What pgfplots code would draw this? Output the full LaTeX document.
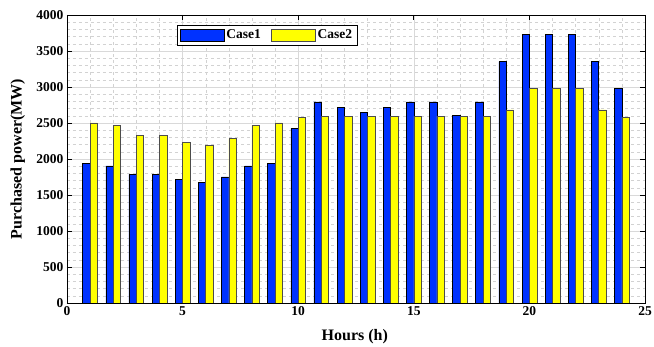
\documentclass[border=0pt]{standalone}
\usepackage{fontspec}
\setmainfont{Liberation Serif}
\usepackage{pgfplots}
\pgfplotsset{compat=1.18}
\definecolor{cblue}{RGB}{0,50,255}
\definecolor{cyel}{RGB}{255,255,0}
\begin{document}
\begin{tikzpicture}
\path[use as bounding box] (-67pt,-44pt) rectangle (587pt,303pt);
\begin{axis}[
  at={(0,0)}, anchor=south west,
  scale only axis, width=578pt, height=288pt,
  ybar,
  xmin=0, xmax=25, ymin=0, ymax=4000,
  xtick={0,5,...,25}, ytick={0,500,...,4000},
  minor x tick num=4, minor y tick num=4,
  grid=both,
  major grid style={gray!30, line width=0.6pt},
  minor grid style={gray!35, dashed, line width=0.4pt},
  tick align=inside,
  major tick length=5pt, minor tick length=0pt,
  axis line style={black, line width=0.7pt},
  tick style={black, line width=0.7pt},
  ticklabel style={font=\fontsize{13.5}{13.5}\selectfont\bfseries},
  /pgf/number format/assume math mode=true,
  /pgf/number format/set thousands separator={},
  xlabel={Hours (h)}, ylabel={Purchased power(MW)},
  label style={font=\fontsize{16}{16}\selectfont\bfseries},
  xlabel style={at={(axis description cs:0.498,-0.118)}, anchor=center},
  ylabel style={at={(axis description cs:-0.085,0.5)}, anchor=center},
  legend columns=2,
  legend style={at={(axis description cs:0.346,0.967)}, anchor=north,
    draw=black, line width=0.6pt, fill=white, inner sep=3pt,
    font=\fontsize{13.5}{13.5}\selectfont\bfseries,
    /tikz/every even column/.append style={column sep=8pt}},
  legend image code/.code={\draw[#1] (0pt,-6pt) rectangle (44pt,6pt);},
]
\addplot[ybar, bar width=0.32, bar shift=-0.16, fill=cblue, draw=black, line width=0.6pt] coordinates {
(1,1935) (2,1903) (3,1787) (4,1787) (5,1713) (6,1676) (7,1750) (8,1903)
(9,1935) (10,2426) (11,2792) (12,2722) (13,2644) (14,2722) (15,2792) (16,2792)
(17,2611) (18,2792) (19,3352) (20,3727) (21,3727) (22,3727) (23,3352) (24,2977)};
\addlegendentry{Case1}
\addplot[ybar, bar width=0.32, bar shift=0.16, fill=cyel, draw=black!70, line width=0.6pt] coordinates {
(1,2500) (2,2468) (3,2324) (4,2324) (5,2227) (6,2185) (7,2282) (8,2468)
(9,2500) (10,2583) (11,2597) (12,2597) (13,2597) (14,2597) (15,2597) (16,2597)
(17,2597) (18,2597) (19,2681) (20,2977) (21,2977) (22,2977) (23,2681) (24,2583)};
\addlegendentry{Case2}
\end{axis}
\end{tikzpicture}
\end{document}
